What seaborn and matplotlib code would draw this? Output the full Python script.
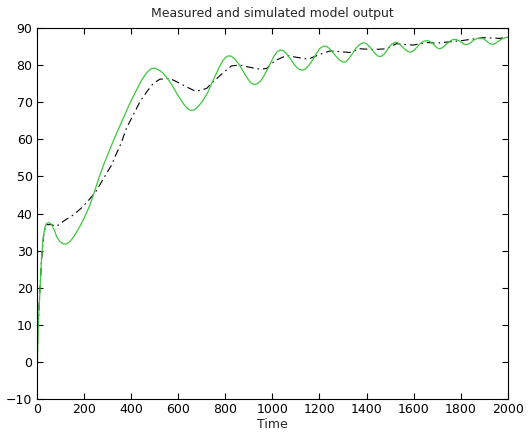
import matplotlib
matplotlib.use("Agg")
import matplotlib.pyplot as plt
import seaborn as sns

# simulated model output (green)
sim_time = [0, 3, 7, 14, 21, 28, 35, 42, 49, 57, 64, 75, 85, 98, 113, 127,
            141, 160, 184, 205, 226, 243, 261, 285, 311, 332, 353, 375, 396,
            418, 438, 452, 465, 477, 488, 499, 510, 523, 537, 550, 565, 580,
            594, 610, 625, 638, 652, 668, 685, 705, 725, 742, 760, 776, 790,
            802, 813, 826, 840, 855, 870, 885, 898, 910, 921, 935, 950, 965,
            980, 995, 1008, 1021, 1034, 1047, 1060, 1078, 1095, 1110, 1126,
            1140, 1155, 1172, 1188, 1202, 1216, 1228, 1240, 1255, 1270, 1286,
            1301, 1313, 1325, 1339, 1352, 1366, 1379, 1391, 1402, 1414, 1426,
            1438, 1449, 1460, 1472, 1484, 1496, 1508, 1520, 1530, 1540, 1551,
            1562, 1572, 1583, 1593, 1603, 1615, 1628, 1641, 1655, 1665, 1675,
            1684, 1693, 1701, 1710, 1719, 1728, 1741, 1755, 1767, 1780, 1788,
            1797, 1806, 1815, 1824, 1833, 1843, 1852, 1862, 1872, 1890,
            1898, 1907, 1916, 1925, 1935, 1945, 1957, 1970, 1985, 2000]
sim_value = [-8, 0.5, 10.5, 19.5, 28.5, 33.7, 36.4, 37.3, 37.5, 37.4, 36.9,
             35.5, 33.7, 32.5, 31.8, 31.8, 32.4, 34.0, 36.6, 39.3, 42.3, 45.5,
             49.0, 53.3, 57.3, 60.6, 63.6, 66.8, 69.8, 72.6, 75.1, 76.6, 77.8,
             78.6, 79.1, 79.2, 78.9, 78.5, 77.8, 76.8, 75.5, 74.0, 72.4, 70.8,
             69.4, 68.4, 67.8, 67.9, 68.8, 70.4, 72.5, 75.0, 77.4, 79.6, 81.2,
             82.1, 82.5, 82.4, 81.7, 80.5, 79.0, 77.4, 76.1, 75.2, 74.8, 74.9,
             75.7, 77.1, 79.0, 80.9, 82.5, 83.6, 84.1, 83.9, 83.1, 81.6, 80.0,
             79.0, 78.6, 78.9, 79.9, 81.5, 83.2, 84.5, 85.1, 85.1, 84.6, 83.6,
             82.4, 81.3, 80.8, 80.9, 81.8, 83.0, 84.3, 85.3, 85.9, 86.0, 85.6,
             84.9, 83.9, 83.0, 82.4, 82.3, 82.8, 83.7, 84.9, 85.7, 86.1, 86.1,
             85.7, 85.0, 84.3, 83.8, 83.5, 83.6, 84.1, 84.9, 85.8, 86.4, 86.6,
             86.5, 86.1, 85.6, 85.0, 84.6, 84.4, 84.6, 85.0, 85.8, 86.5, 86.9,
             86.9, 86.7, 86.4, 86.0, 85.6, 85.5, 85.7, 86.1, 86.6, 87.0, 87.2,
             87.2, 87.0, 86.6, 86.1, 85.7, 85.6, 85.8, 86.3, 86.9, 87.3, 87.5]

# measured output (black dash-dot)
meas_time = [0, 10, 20, 30, 40, 60, 85, 120, 155, 194, 233, 255, 276, 301,
             318, 336, 358, 381, 410, 438, 467, 495, 523, 565, 601, 640, 676,
             721, 742, 789, 827, 863, 905, 947, 976, 1011, 1061, 1103, 1152,
             1202, 1244, 1273, 1329, 1372, 1428, 1485, 1527, 1570, 1598, 1655,
             1697, 1754, 1803, 1850, 1895, 1966, 2000]
meas_value = [0, 15, 27, 34.5, 37, 37, 36.6, 38.2, 39.6, 41.7, 44.5, 46.3,
              48.6, 51.3, 53.1, 55.8, 58.9, 63, 66.6, 70.1, 72.8, 75.1, 76.2,
              76.4, 75.3, 74, 72.9, 73.7, 75.1, 77.8, 79.8, 80.0, 79.4, 78.9,
              79.1, 81.2, 82.6, 82.1, 81.6, 82.9, 83.8, 83.7, 83.4, 84.4, 84.2,
              84.4, 85.8, 85.5, 85.4, 86.1, 85.9, 86.3, 86.6, 87.0, 87.4, 87.2,
              87.5]

x_ticks = list(range(0, 2001, 200))
y_ticks = list(range(-10, 91, 10))

sns.set_style("ticks")
plt.rcParams['font.family'] = ['DejaVu Sans']
plt.rcParams['font.size'] = 9

fig = plt.figure(figsize=(5.28, 4.41), dpi=100)
ax = fig.add_axes([0.0695, 0.0952, 0.8925, 0.8413])

sns.lineplot(x=meas_time, y=meas_value, ax=ax, color='black', lw=0.8,
             sort=False, estimator=None)
ax.lines[-1].set_dashes((7, 3.5, 1.5, 3.5))
sns.lineplot(x=sim_time, y=sim_value, ax=ax, color='#3cc83c', lw=0.9,
             sort=False, estimator=None)

ax.set_xlim(0, 2000)
ax.set_ylim(-10, 90)
ax.set_xticks(x_ticks)
ax.set_yticks(y_ticks)
ax.tick_params(direction='in', length=4, width=0.8, top=True, right=True,
               labelsize=9, pad=3, colors='black')
for s in ax.spines.values():
    s.set_visible(True)
    s.set_linewidth(0.8)
    s.set_color('black')
ax.set_title('Measured and simulated model output', fontsize=9, pad=8)
ax.set_xlabel('Time', fontsize=9, labelpad=1)
ax.set_ylabel('')

fig.savefig('out.png', dpi=100)
